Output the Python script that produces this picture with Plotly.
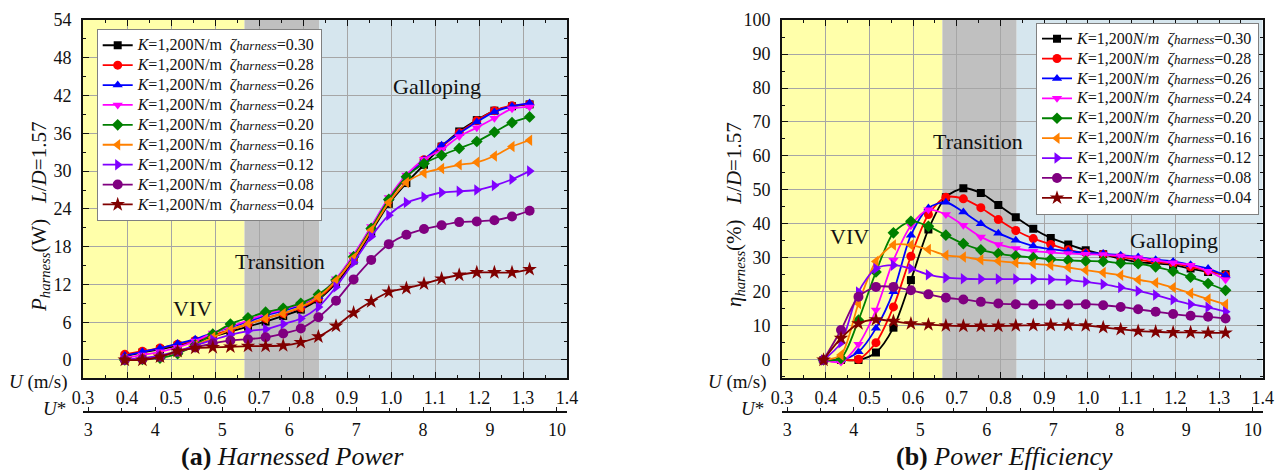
import plotly.graph_objects as go

# Flow speed U (m/s) at each measured point
U = [0.395, 0.435, 0.475, 0.515, 0.555, 0.595, 0.635, 0.675, 0.715, 0.755, 0.795, 0.835,
     0.875, 0.915, 0.955, 0.995, 1.035, 1.075, 1.115, 1.155, 1.195, 1.235, 1.275, 1.315]

zeta_labels = ["0.30", "0.28", "0.26", "0.24", "0.20", "0.16", "0.12", "0.08", "0.04"]

# Harnessed power P_harness (W)
P_030 = [0.6, 1.2, 1.7, 2.3, 2.9, 3.7, 4.5, 5.3, 6.1, 7.0, 8.0, 9.6, 12.2, 15.8, 20.3, 24.8,
         28.1, 31.0, 33.9, 36.3, 38.1, 39.6, 40.3, 40.6]
P_028 = [0.9, 1.4, 1.9, 2.5, 3.1, 3.9, 4.8, 5.7, 6.6, 7.4, 8.3, 9.8, 12.5, 16.2, 20.8, 25.4,
         29.0, 31.8, 33.9, 36.1, 38.0, 39.6, 40.4, 40.6]
P_026 = [0.7, 1.3, 1.9, 2.6, 3.3, 4.3, 5.2, 6.1, 7.1, 7.8, 8.7, 10.1, 12.8, 16.6, 21.1, 25.6,
         29.2, 31.8, 34.1, 36.0, 37.8, 39.4, 40.3, 40.8]
P_024 = [0.3, 0.8, 1.3, 2.0, 3.0, 4.3, 5.3, 6.3, 7.3, 8.0, 8.9, 10.2, 12.9, 16.7, 21.2, 25.8,
         29.4, 31.9, 33.4, 35.5, 36.9, 38.4, 39.9, 40.2]
P_020 = [0.0, 0.1, 0.3, 1.0, 2.4, 4.1, 5.7, 6.7, 7.6, 8.2, 9.0, 10.4, 12.7, 16.4, 20.9, 25.5,
         29.1, 31.2, 32.5, 33.6, 34.7, 36.2, 37.7, 38.6]
P_016 = [0.1, 0.2, 0.6, 1.3, 2.3, 3.6, 4.8, 5.7, 6.6, 7.4, 8.4, 10.0, 12.6, 16.2, 20.6, 25.0,
         28.2, 29.7, 30.4, 31.0, 31.4, 32.4, 33.9, 34.9]
P_012 = [0.1, 0.3, 0.7, 1.4, 2.3, 3.2, 4.0, 4.6, 4.9, 5.7, 6.6, 8.4, 11.6, 15.5, 19.6, 23.0,
         25.0, 25.9, 26.6, 26.8, 27.0, 27.7, 28.7, 30.0]
P_008 = [0.0, 0.1, 0.5, 1.3, 2.0, 2.6, 3.1, 3.3, 3.6, 4.2, 5.0, 6.8, 9.4, 12.8, 15.9, 18.4,
         19.9, 20.8, 21.4, 21.9, 22.0, 22.2, 22.8, 23.7]
P_004 = [0.0, 0.0, 0.5, 1.4, 1.9, 2.0, 2.1, 2.2, 2.2, 2.3, 2.8, 3.7, 5.4, 7.5, 9.3, 10.8,
         11.4, 12.1, 12.9, 13.5, 13.9, 13.9, 13.9, 14.4]

# Power efficiency eta_harness (%)
E_030 = [0.0, 0.0, 0.0, 2.2, 9.5, 23.5, 38.4, 47.9, 50.5, 49.1, 45.6, 42.0, 38.6, 35.9, 34.0, 32.3,
         31.1, 29.8, 28.8, 28.4, 27.9, 26.9, 25.9, 25.2]
E_028 = [0.0, 0.0, 0.2, 5.1, 15.6, 30.5, 42.8, 47.9, 47.4, 44.8, 41.3, 38.1, 35.7, 34.0, 32.4, 31.5,
         31.1, 30.3, 29.5, 28.8, 28.4, 27.4, 26.2, 24.9]
E_026 = [0.0, 0.0, 2.4, 9.3, 20.1, 36.7, 44.7, 46.4, 43.5, 40.1, 37.3, 35.2, 33.5, 32.6, 32.0, 31.5,
         31.3, 30.8, 30.3, 29.5, 29.0, 28.0, 26.9, 24.9]
E_024 = [0.0, -0.6, 4.6, 14.7, 29.3, 39.5, 44.2, 42.8, 39.6, 36.2, 34.0, 32.8, 32.0, 31.6, 31.3, 31.1,
         31.0, 30.6, 30.1, 29.3, 28.6, 27.9, 26.1, 23.6]
E_020 = [0.0, 0.5, 11.7, 25.9, 37.4, 40.8, 39.3, 36.7, 34.2, 32.4, 31.3, 30.6, 30.1, 29.6, 29.3, 29.1,
         29.0, 28.5, 28.3, 27.4, 26.1, 24.4, 22.5, 20.5]
E_016 = [0.0, 1.5, 16.6, 29.0, 33.8, 33.8, 32.5, 30.8, 30.3, 29.5, 29.1, 28.6, 28.3, 27.9, 27.2, 26.4,
         25.7, 24.9, 23.6, 22.7, 21.3, 19.6, 17.9, 16.4]
E_012 = [0.0, 5.1, 20.0, 26.9, 27.9, 26.9, 25.1, 24.2, 23.9, 23.8, 23.8, 23.8, 23.8, 23.7, 23.5, 23.0,
         22.3, 21.3, 20.3, 19.1, 17.7, 16.4, 15.5, 14.2]
E_008 = [0.0, 8.8, 18.6, 21.5, 21.5, 20.5, 19.3, 18.3, 17.8, 17.1, 16.6, 16.4, 16.3, 16.3, 16.3, 16.4,
         16.1, 15.6, 14.9, 14.2, 13.5, 13.0, 12.7, 12.2]
E_004 = [0.0, 6.4, 10.7, 11.9, 11.4, 10.7, 10.4, 10.1, 10.0, 10.0, 10.0, 10.1, 10.2, 10.3, 10.3, 10.1,
         9.6, 9.0, 8.5, 8.3, 8.1, 8.1, 8.0, 8.0]

P_series = [P_030, P_028, P_026, P_024, P_020, P_016, P_012, P_008, P_004]
E_series = [E_030, E_028, E_026, E_024, E_020, E_016, E_012, E_008, E_004]

colors = ["#000000", "#FF0000", "#0000FF", "#FF00FF", "#008000",
          "#FF8000", "#8000FF", "#800080", "#800000"]
symbols = ["square", "circle", "triangle-up", "triangle-down", "diamond",
           "triangle-left", "triangle-right", "circle", "star"]
sizes = [8, 9, 9, 9, 9, 10, 10, 10, 11]

# Flow regime bands (U, m/s)
regimes = [(0.3, 0.667, "#FFFFAA"), (0.667, 0.837, "#C0C0C0"), (0.837, 1.4, "#D6E6EE")]

W, H = 1282, 470
FONT = "Liberation Serif"


def px_x(p):
    return p / W


def px_y(p):
    return 1 - p / H


fig = go.Figure()

sub = "<span style='font-size:13px'><i>harness</i></span>"


def big_text(s):
    return f"<span style='font-size:16px'>{s}</span>"


for k in range(9):
    name_a = (big_text("<i>K</i>=1,200N/m\u00a0\u00a0<i>ζ</i>") + sub
              + big_text(f"={zeta_labels[k]}"))
    name_b = (big_text("<i>K</i>=1,200<i>N</i>/<i>m</i>\u00a0\u00a0<i>ζ</i>") + sub
              + big_text(f"={zeta_labels[k]}"))
    common = dict(mode="lines+markers",
                  line=dict(color=colors[k], width=1.8, shape="spline", smoothing=0.8),
                  marker=dict(symbol=symbols[k], size=sizes[k], color=colors[k],
                              line=dict(width=0)))
    fig.add_trace(go.Scatter(x=U, y=P_series[k], name=name_a, xaxis="x", yaxis="y",
                             legend="legend", **common))
    fig.add_trace(go.Scatter(x=U, y=E_series[k], name=name_b, xaxis="x2", yaxis="y2",
                             legend="legend2", **common))

# placeholders so the U* axes get drawn
for xa, ya in (("x3", "y"), ("x4", "y2")):
    fig.add_trace(go.Scatter(x=[3, 10], y=[0, 0], xaxis=xa, yaxis=ya, mode="markers",
                             marker=dict(opacity=0), showlegend=False, hoverinfo="skip"))

xd1 = [px_x(83), px_x(567)]
xd2 = [px_x(782), px_x(1262.7)]
yd = [px_y(378), px_y(20)]

tickfont = dict(family=FONT, size=18, color="#111111")


def u_axis(domain):
    return dict(domain=domain, range=[0.3, 1.4], dtick=0.1, tick0=0.3, tickformat=".1f",
                ticks="inside", ticklen=6, tickwidth=1.2, tickcolor="#111",
                minor=dict(dtick=0.05, ticks="inside", ticklen=3, tickcolor="#111", showgrid=False),
                showline=True, linecolor="#111", linewidth=1.6, mirror="ticks",
                showgrid=True, gridcolor="#A6A6A6", gridwidth=1, zeroline=False,
                tickfont=tickfont, ticklabelstandoff=3, automargin=False)


def ustar_axis(over):
    return dict(overlaying=over, anchor="free", position=px_y(411.7), side="bottom",
                range=[2.92, 10.15], dtick=1, tick0=3, ticks="inside", ticklen=4,
                tickwidth=1.2, tickcolor="#111",
                minor=dict(dtick=0.5, ticks="inside", ticklen=2.5, tickcolor="#111", showgrid=False),
                showline=True, linecolor="#111", linewidth=1.6, showgrid=False, zeroline=False,
                tickfont=tickfont, ticklabelstandoff=2, automargin=False)


def val_axis(rng, dtick, anchor):
    return dict(domain=yd, range=rng, dtick=dtick, tick0=0, anchor=anchor,
                ticks="inside", ticklen=6, tickwidth=1.2, tickcolor="#111",
                minor=dict(dtick=dtick / 2, ticks="inside", ticklen=3, tickcolor="#111", showgrid=False),
                showline=True, linecolor="#111", linewidth=1.6, mirror="ticks",
                showgrid=True, gridcolor="#A6A6A6", gridwidth=1, zeroline=False,
                tickfont=tickfont, ticklabelstandoff=6, automargin=False)


legend_common = dict(bgcolor="white", bordercolor="#808080", borderwidth=1,
                     font=dict(family=FONT, size=13, color="#111"),
                     xanchor="left", yanchor="top", tracegroupgap=0,
                     itemwidth=30)

fig.update_layout(
    template="none",
    width=W, height=H, margin=dict(l=0, r=0, t=0, b=0, autoexpand=False),
    paper_bgcolor="white", plot_bgcolor="white",
    font=dict(family=FONT, color="#111"),
    showlegend=True,
    xaxis=dict(anchor="y", **u_axis(xd1)),
    yaxis=val_axis([-2.86, 54], 6, "x"),
    xaxis2=dict(anchor="y2", **u_axis(xd2)),
    yaxis2=val_axis([-5.3, 100], 10, "x2"),
    xaxis3=ustar_axis("x"),
    xaxis4=ustar_axis("x2"),
    legend=dict(x=px_x(96.7), y=px_y(29.3), **legend_common),
    legend2=dict(x=px_x(1036), y=px_y(22.7), **legend_common),
)

shapes = []
for xr, yr in (("x", "y"), ("x2", "y2")):
    for x0, x1, c in regimes:
        shapes.append(dict(type="rect", xref=xr, yref=f"{yr} domain", x0=x0, x1=x1, y0=0, y1=1,
                           fillcolor=c, line=dict(width=0), layer="below"))
fig.update_layout(shapes=shapes)

big = dict(family=FONT, size=22, color="#111")
anns = [
    # regime labels, left panel
    dict(x=1.1045, y=43.5, xref="x", yref="y", text="Galloping", font=big),
    dict(x=0.7477, y=15.7, xref="x", yref="y", text="Transition", font=big),
    dict(x=0.549, y=8.2, xref="x", yref="y", text="VIV", font=big),
    # regime labels, right panel
    dict(x=0.4555, y=36.4, xref="x2", yref="y2", text="VIV", font=big),
    dict(x=0.748, y=64.3, xref="x2", yref="y2", text="Transition", font=big),
    dict(x=1.196, y=35.2, xref="x2", yref="y2", text="Galloping", font=big),
    # axis titles
    dict(x=px_x(40), y=px_y(217), xref="paper", yref="paper", textangle=-90,
         text="<i>P</i><sub><i>harness</i></sub>(W)\u00a0\u00a0 <i>L</i>/<i>D</i>=1.57",
         font=dict(family=FONT, size=21, color="#111")),
    dict(x=px_x(735), y=px_y(215), xref="paper", yref="paper", textangle=-90,
         text="<i>η</i><sub><i>harness</i></sub>(%)\u00a0\u00a0 <i>L</i>/<i>D</i>=1.57",
         font=dict(family=FONT, size=21, color="#111")),
    dict(x=px_x(38), y=px_y(382), xref="paper", yref="paper",
         text="<i>U</i> (m/s)", font=dict(family=FONT, size=19, color="#111")),
    dict(x=px_x(737), y=px_y(382), xref="paper", yref="paper",
         text="<i>U</i> (m/s)", font=dict(family=FONT, size=19, color="#111")),
    dict(x=px_x(54), y=px_y(408), xref="paper", yref="paper",
         text="<i>U</i>*", font=dict(family=FONT, size=19, color="#111")),
    dict(x=px_x(753), y=px_y(408), xref="paper", yref="paper",
         text="<i>U</i>*", font=dict(family=FONT, size=19, color="#111")),
    # panel captions
    dict(x=px_x(292.5), y=px_y(456), xref="paper", yref="paper",
         text="<b>(a)</b> <i>Harnessed Power</i>", font=dict(family=FONT, size=26, color="#111")),
    dict(x=px_x(1004), y=px_y(456), xref="paper", yref="paper",
         text="<b>(b)</b> <i>Power Efficiency</i>", font=dict(family=FONT, size=26, color="#111")),
]
for a in anns:
    a.update(showarrow=False, xanchor="center", yanchor="middle")
fig.update_layout(annotations=anns)

fig.write_html("out.html")
